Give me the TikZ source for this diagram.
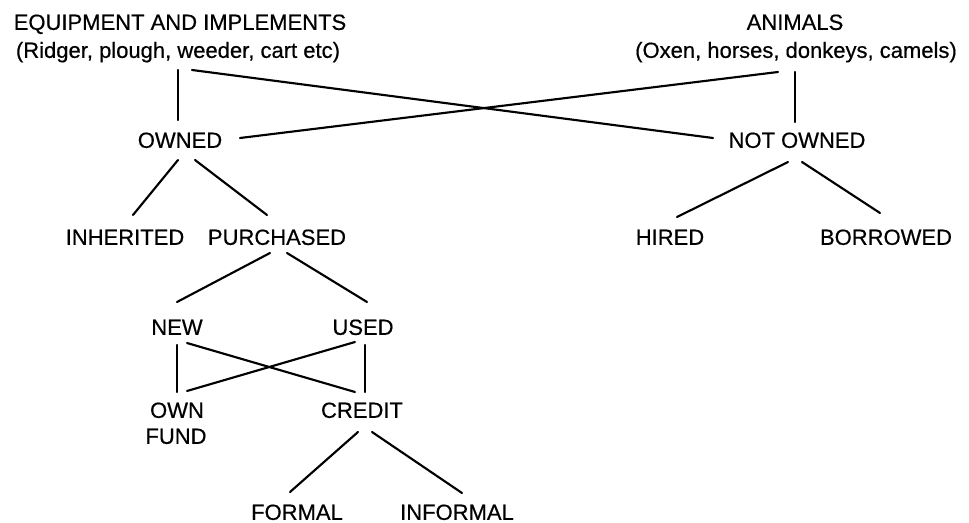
\documentclass[tikz,border=0pt]{standalone}
\usepackage{fontspec}
\setmainfont{Liberation Sans}
\newfontfamily\lblfont{Liberation Sans}[FakeBold=0.5]
\begin{document}
\begin{tikzpicture}[x=0.75pt,y=-0.75pt,
  lbl/.style={inner sep=0pt,outer sep=0pt,text height=11.8pt,text depth=0pt,
    font=\lblfont\fontsize{16.5}{20}\selectfont},
  conn/.style={line width=1.6pt,line cap=round}]
\useasboundingbox[fill=white] (0,0) rectangle (969,523);
% nodes
\node[lbl] (eq1) at (180,22) {EQUIPMENT AND IMPLEMENTS};
\node[lbl] (eq2) at (178,50) {(Ridger, plough, weeder, cart etc)};
\node[lbl] (an1) at (795,22) {ANIMALS};
\node[lbl] (an2) at (796,50) {(Oxen, horses, donkeys, camels)};
\node[lbl] (owned) at (180,140) {OWNED};
\node[lbl] (notowned) at (797,140) {NOT OWNED};
\node[lbl] (inherited) at (125,237) {INHERITED};
\node[lbl] (purchased) at (277,237) {PURCHASED};
\node[lbl] (hired) at (670,237) {HIRED};
\node[lbl] (borrowed) at (886,237) {BORROWED};
\node[lbl] (new) at (177,327) {NEW};
\node[lbl] (used) at (363,327) {USED};
\node[lbl] (own) at (177,410) {OWN};
\node[lbl] (fund) at (176,436) {FUND};
\node[lbl] (credit) at (362,410) {CREDIT};
\node[lbl] (formal) at (297,512) {FORMAL};
\node[lbl] (informal) at (457,512) {INFORMAL};
% connectors
\draw[conn] ([shift={(0,20)}]eq2.center) -- ([shift={(-2,-20)}]owned.center);
\draw[conn] ([shift={(14,20)}]eq2.center) -- ([shift={(-84,-2)}]notowned.center);
\draw[conn] ([shift={(-18,22)}]an2.center) -- ([shift={(60,-2)}]owned.center);
\draw[conn] ([shift={(-1,22)}]an2.center) -- ([shift={(-2,-18)}]notowned.center);
\draw[conn] ([shift={(-2,20)}]owned.center) -- ([shift={(8,-22)}]inherited.center);
\draw[conn] ([shift={(15,20)}]owned.center) -- ([shift={(-10,-22)}]purchased.center);
\draw[conn] ([shift={(-9,22)}]notowned.center) -- ([shift={(7,-20)}]hired.center);
\draw[conn] ([shift={(5,22)}]notowned.center) -- ([shift={(-6,-24)}]borrowed.center);
\draw[conn] ([shift={(-7,16)}]purchased.center) -- ([shift={(0,-25)}]new.center);
\draw[conn] ([shift={(10,16)}]purchased.center) -- ([shift={(4,-25)}]used.center);
\draw[conn] ([shift={(0,18)}]new.center) -- ([shift={(0,-18)}]own.center);
\draw[conn] ([shift={(10,16)}]new.center) -- ([shift={(-7,-18)}]credit.center);
\draw[conn] ([shift={(-8,15)}]used.center) -- ([shift={(10,-19)}]own.center);
\draw[conn] ([shift={(2,18)}]used.center) -- ([shift={(3,-18)}]credit.center);
\draw[conn] ([shift={(-4,22)}]credit.center) -- ([shift={(-7,-20)}]formal.center);
\draw[conn] ([shift={(10,22)}]credit.center) -- ([shift={(5,-19)}]informal.center);
\end{tikzpicture}
\end{document}
